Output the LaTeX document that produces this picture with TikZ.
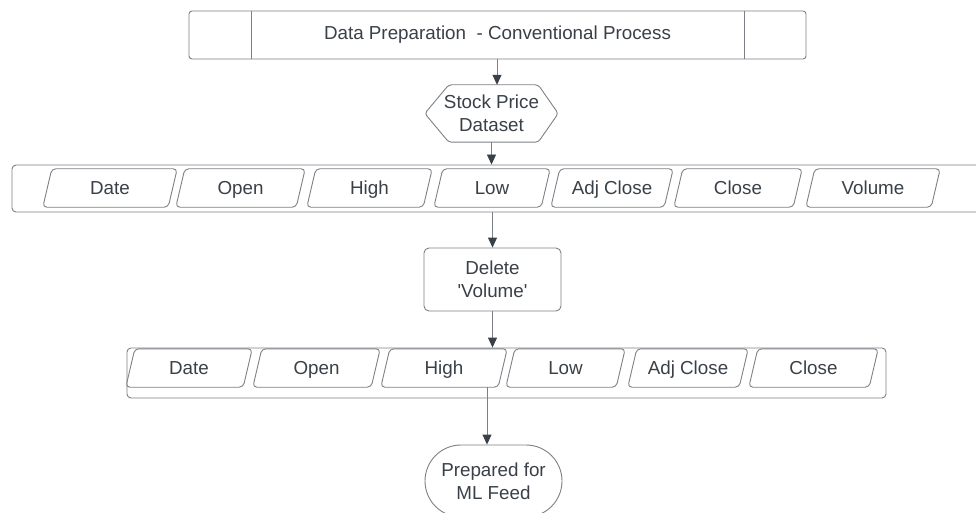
\documentclass[tikz,border=0pt]{standalone}
\usepackage{fontspec}
\setmainfont{Liberation Sans}
\usetikzlibrary{arrows.meta,shapes.misc,calc}
\definecolor{linec}{RGB}{125,129,135}
\definecolor{headc}{RGB}{58,64,72}
\definecolor{txtc}{RGB}{58,64,72}
\tikzset{
  every node/.style={text=txtc, font=\fontsize{18.8}{23}\selectfont},
  outl/.style={draw=linec, line width=0.9pt},
  arr/.style={draw=linec, line width=0.9pt, -{Triangle[length=10pt,width=9pt,fill=headc,color=headc]}},
  fieldtext/.style={inner sep=0pt, minimum height=38pt, text height=13pt, text depth=0pt},
  fieldline/.style={outl, rounded corners=4pt},
}
% name, centre x, centre y, top width, text
\newcommand\fld[5]{%
  \node[fieldtext, minimum width=#4] (#1) at (#2,#3) {#5};
  \draw[fieldline] ([xshift=4.5pt]#1.north west) -- ([xshift=4.5pt]#1.north east)
    -- ([xshift=-4.5pt]#1.south east) -- ([xshift=-4.5pt]#1.south west) -- cycle;
}
\begin{document}
\begin{tikzpicture}[x=1pt,y=-1pt]
\clip (0,0) rectangle (976,513);
\fill[white] (0,0) rectangle (976,513);

% title
\node[outl, rounded corners=3pt, minimum width=617pt, minimum height=48pt, inner sep=0pt] (title) at (497.5,35) {Data Preparation\ \ - Conventional Process};
\draw[outl] (251,11) -- (251,59);
\draw[outl] (744,11) -- (744,59);

% hexagon
\node[inner sep=0pt, minimum width=133pt, minimum height=57pt, align=center] (hex) at (491.5,113.5) {Stock Price\\Dataset};
\draw[outl, rounded corners=3pt] (hex.west) -- ([xshift=24pt]hex.north west) -- ([xshift=-20pt]hex.north east)
  -- (hex.east) -- ([xshift=-20pt]hex.south east) -- ([xshift=24pt]hex.south west) -- cycle;

% row 1
\node[outl, rounded corners=4pt, minimum width=1000pt, minimum height=47pt, inner sep=0pt] (row1) at (512,188.5) {};
\fld{aDate}{110}{188}{125}{Date}
\fld{aOpen}{240.5}{188}{120}{Open}
\fld{aHigh}{369.5}{188}{116}{High}
\fld{aLow}{492}{188}{107}{Low}
\fld{aAdj}{612}{188}{113}{Adj Close}
\fld{aClose}{738}{188}{119}{Close}
\fld{aVol}{873}{188}{125}{Volume}

% delete
\node[outl, rounded corners=5pt, minimum width=137pt, minimum height=63pt, inner sep=0pt, align=center] (del) at (492.5,279.5) {Delete\\\textquotesingle Volume\textquotesingle};

% row 2
\node[outl, rounded corners=4pt, minimum width=759pt, minimum height=50pt, inner sep=0pt] (row2) at (506.5,373) {};
\fld{bDate}{189}{368}{117}{Date}
\fld{bOpen}{316.5}{368}{118}{Open}
\fld{bHigh}{444}{368}{117}{High}
\fld{bLow}{565.5}{368}{110}{Low}
\fld{bAdj}{688}{368}{111}{Adj Close}
\fld{bClose}{813.5}{368}{120}{Close}

% prepared
\node[outl, rounded rectangle, minimum width=137pt, minimum height=72pt, inner sep=0pt, align=center] (prep) at (493.5,481) {Prepared for\\ML Feed};

% connectors
\coordinate (t1) at (497,59);
\draw[arr] (t1) -- (t1 |- hex.north);
\draw[arr] (hex.south) -- (hex.south |- row1.north);
\draw[arr] (del.north |- row1.south) -- (del.north);
\draw[arr] (del.south) -- (del.south |- row2.north);
\coordinate (hout) at (487,387);
\draw[arr] (hout) -- (hout |- prep.north);
\end{tikzpicture}
\end{document}
